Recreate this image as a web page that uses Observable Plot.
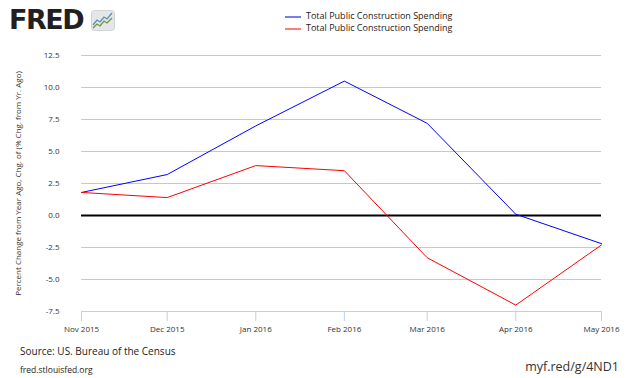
<!DOCTYPE html>
<html>
<head>
<meta charset="utf-8">
<script src="https://cdn.jsdelivr.net/npm/d3@7"></script>
<script src="https://cdn.jsdelivr.net/npm/@observablehq/plot@0.6"></script>
<style>
  html, body { margin: 0; padding: 0; background: #fff; }
  #wrap { position: relative; width: 630px; height: 378px; overflow: hidden; font-family: "Open Sans", "DejaVu Sans", sans-serif; }
  #chart { position: absolute; left: 0; top: 0; }
  .abs { position: absolute; white-space: nowrap; }
  .legline { position: absolute; width: 16px; height: 2px; }
  .legtext { position: absolute; font-size: 9px; color: #222; line-height: 10px; }
</style>
</head>
<body>
<div id="wrap">
  <div id="chart"></div>
  <div class="abs" style="left:9px; top:4px; font-family:'DejaVu Sans', sans-serif; font-weight:bold; font-size:27px; letter-spacing:-1.5px; color:#231f20; line-height:32px;">FRED</div>
  <svg class="abs" style="left:91px; top:10px;" width="24" height="21" viewBox="0 0 24 21">
    <rect x="0.5" y="0.5" width="23" height="20" rx="3" fill="#e4e6e8" stroke="#d0d3d6"/>
    <polyline points="2,15 6,10 9,12 13,7 16,9 21,3" fill="none" stroke="#5b8db8" stroke-width="1.3"/>
    <polyline points="2,18 6,14 9,16 13,11 16,13 21,8" fill="none" stroke="#6a9a3a" stroke-width="1.3"/>
  </svg>
  <div class="legline" style="left:285px; top:16px; background:#7a7aff;"></div>
  <div class="legtext" style="left:306px; top:11px;">Total Public Construction Spending</div>
  <div class="legline" style="left:285px; top:28px; background:#ff7a7a;"></div>
  <div class="legtext" style="left:306px; top:23px;">Total Public Construction Spending</div>
  <div class="abs" style="left:20px; top:344px; font-size:10px; color:#222;">Source: US. Bureau of the Census</div>
  <div class="abs" style="left:20px; top:364px; font-size:8.5px; color:#222;">fred.stlouisfed.org</div>
  <div class="abs" style="right:11px; top:358px; font-size:12.5px; color:#333;">myf.red/g/4ND1</div>
</div>
<script>
const months = ["2015-11-01", "2015-12-01", "2016-01-01", "2016-02-01", "2016-03-01", "2016-04-01", "2016-05-01"];
const blueValues = [1.8, 3.2, 7.0, 10.5, 7.2, 0.1, -2.2];
const redValues = [1.8, 1.4, 3.9, 3.5, -3.3, -7.0, -2.3];
const yTicks = [-7.5, -5.0, -2.5, 0.0, 2.5, 5.0, 7.5, 10.0, 12.5];
const seriesName = "Total Public Construction Spending";

const parse = d3.utcParse("%Y-%m-%d");
const dates = months.map(parse);
const blue = dates.map((d, i) => ({date: d, value: blueValues[i]}));
const red = dates.map((d, i) => ({date: d, value: redValues[i]}));

const chart = Plot.plot({
  width: 630,
  height: 378,
  marginTop: 55,
  marginBottom: 67,
  marginLeft: 81,
  marginRight: 29,
  style: {fontFamily: "'Open Sans', 'DejaVu Sans', sans-serif", fontSize: "8px", color: "#333", background: "transparent"},
  x: {type: "utc", domain: [dates[0], dates[dates.length - 1]]},
  y: {domain: [-7.5, 12.5]},
  marks: [
    Plot.ruleY(yTicks.filter(v => v !== 0 && v !== -7.5), {stroke: "#c8c8c8", strokeWidth: 1}),
    Plot.ruleY([-7.5], {stroke: "#c0d0e0", strokeWidth: 1}),
    Plot.axisY({ticks: yTicks, tickSize: 0, tickPadding: 22, tickFormat: d => d.toFixed(1), fontSize: 8, fill: "#333",
      label: "Percent Change from Year Ago, Chg. of (% Chg. from Yr. Ago)", labelAnchor: "center", labelArrow: "none", labelOffset: 66}),
    Plot.axisX({ticks: dates, tickSize: 10, stroke: "#c0d0e0", tickPadding: 5, tickFormat: d3.utcFormat("%b %Y"), fontSize: 8, fill: "#333", label: null}),
    Plot.ruleY([0], {stroke: "#000", strokeWidth: 2}),
    Plot.line(blue, {x: "date", y: "value", stroke: "#0000ff", strokeWidth: 1}),
    Plot.line(red, {x: "date", y: "value", stroke: "#ff0000", strokeWidth: 1})
  ]
});
document.getElementById("chart").appendChild(chart);
</script>
</body>
</html>
